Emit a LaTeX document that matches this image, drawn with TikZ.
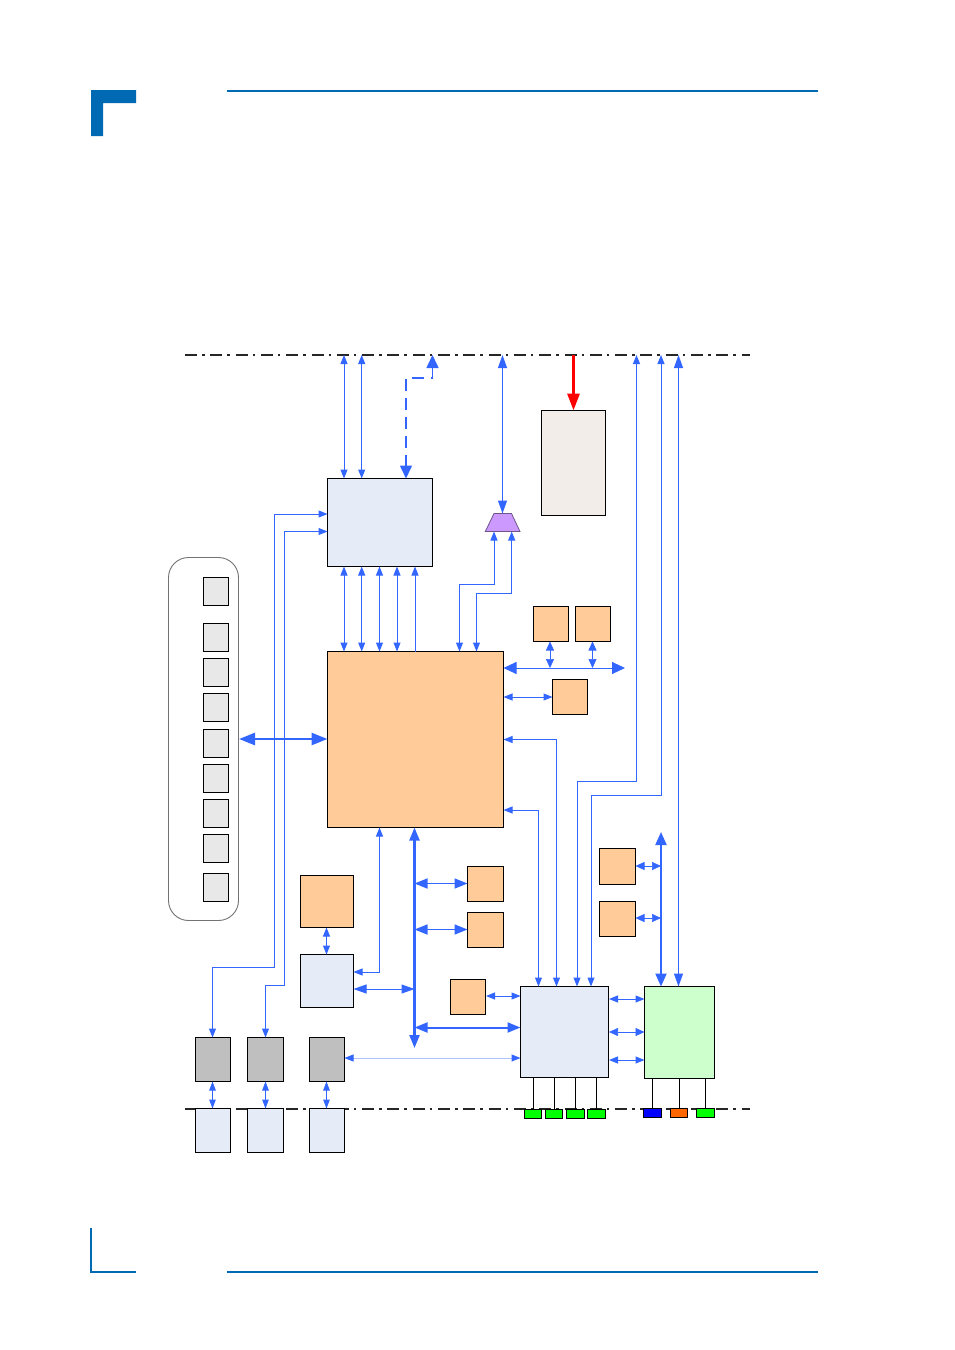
\documentclass[tikz,border=0pt]{standalone}
\usetikzlibrary{arrows.meta}
\definecolor{hdr}{HTML}{0069B4}
\definecolor{arw}{HTML}{3366FF}
\definecolor{lite}{HTML}{AFC4FF}
\definecolor{pale}{HTML}{E6ECF7}
\definecolor{org}{HTML}{FFCC99}
\definecolor{sand}{HTML}{F2EDE9}
\definecolor{mint}{HTML}{CCFFCC}
\definecolor{slot}{HTML}{E8E8E8}
\definecolor{grayb}{HTML}{BFBFBF}
\definecolor{lila}{HTML}{CC99FF}
\definecolor{pin}{HTML}{00FF00}
\definecolor{pinor}{HTML}{FF6600}
\tikzset{
  boxs/.style={draw=black,line width=1,inner sep=0,outer sep=0},
  busline/.style={draw=black!85,line width=1.2,dash pattern=on 12 off 5 on 2.5 off 5.8},
  hline/.style={draw=hdr,line width=1.6},
  wire/.style={draw=black,line width=1},
  tn/.style={draw=arw,line width=1},
  lo/.style={tn,-{Triangle[length=9,width=7]}},
  bo/.style={tn,{Triangle[length=9,width=7]}-{Triangle[length=9,width=7]}},
  bs/.style={tn,{Triangle[length=9,width=6.5]}-{Triangle[length=9,width=6.5]}},
  bf/.style={draw=arw,line width=.6,{Triangle[length=9,width=8]}-{Triangle[length=9,width=8]}},
  bm/.style={tn,{Triangle[length=13,width=9]}-{Triangle[length=13,width=9]}},
  bl/.style={tn,{Triangle[length=13,width=12]}-{Triangle[length=13,width=12]}},
  bt/.style={draw=arw,line width=2,{Triangle[length=13,width=11]}-{Triangle[length=13,width=11]}},
  bx/.style={draw=arw,line width=2.6,{Triangle[length=16,width=12]}-{Triangle[length=16,width=12]}},
}
\newcommand\bxn[6]{\node[boxs,fill=#6,minimum width={#4-#2},minimum height={#5-#3}] (#1) at ({(#2+#4)/2},{(#3+#5)/2}) {};}
\newcommand\pt[3]{\coordinate (#1) at (#2,#3);}
\begin{document}
\begin{tikzpicture}[x=1pt,y=-1pt]
\useasboundingbox (0,0) rectangle (954,1350);
% page furniture
\fill[hdr] (91,90) -- (136,90) -- (136,103) -- (103,103) -- (103,136) -- (91,136) -- cycle;
\pt{hTL}{227}{91}\pt{hTR}{818}{91}\pt{hBL}{227}{1272}\pt{hBR}{818}{1272}
\pt{cA}{91}{1228}\pt{cB}{91}{1272}\pt{cC}{136}{1272}
\draw[hline] (hTL) -- (hTR);
\draw[hline] (hBL) -- (hBR);
\draw[hline] (cA) -- (cB) -- (cC);
% bus lines
\pt{tL}{185}{355}\pt{tR}{750}{355}\pt{uL}{185}{1109}\pt{uR}{750}{1109}
\draw[busline] (tL) -- (tR);
\draw[busline] (uL) -- (uR);
% group
\node[draw=black!55,line width=.9,rounded corners=20,inner sep=0,outer sep=0,minimum width=70,minimum height=363] (grp) at (203.5,739) {};
\bxn{s1}{203.5}{577.3}{228.5}{605.3}{slot}
\bxn{s2}{203.5}{623.3}{228.5}{651.3}{slot}
\bxn{s3}{203.5}{658.3}{228.5}{686.3}{slot}
\bxn{s4}{203.5}{693.3}{228.5}{721.3}{slot}
\bxn{s5}{203.5}{729.3}{228.5}{757.3}{slot}
\bxn{s6}{203.5}{764.3}{228.5}{792.3}{slot}
\bxn{s7}{203.5}{799.3}{228.5}{827.3}{slot}
\bxn{s8}{203.5}{834.3}{228.5}{862.3}{slot}
\bxn{s9}{203.5}{873.3}{228.5}{901.3}{slot}
% main blocks
\bxn{sio}{327.5}{478.5}{432.5}{566.5}{pale}
\bxn{red}{541.5}{410.5}{605.5}{515.5}{sand}
\bxn{fpga}{327.5}{651.5}{503.5}{827.5}{org}
\bxn{oa}{533.5}{606.5}{568.5}{641.5}{org}
\bxn{ob}{575.5}{606.5}{610.5}{641.5}{org}
\bxn{oc}{552.5}{679.5}{587.5}{714.5}{org}
\bxn{od}{599.5}{848.5}{635.5}{884.5}{org}
\bxn{oe}{599.5}{901.5}{635.5}{936.5}{org}
\bxn{of}{300.5}{875.5}{353.5}{927.5}{org}
\bxn{pb}{300.5}{954.5}{353.5}{1007.5}{pale}
\bxn{og}{467.5}{866.5}{503.5}{901.5}{org}
\bxn{oh}{467.5}{912.5}{503.5}{947.5}{org}
\bxn{oi}{450.5}{979.5}{485.5}{1014.5}{org}
\bxn{hub}{520.5}{986.5}{608.5}{1077.5}{pale}
\bxn{grn}{644.5}{986.5}{714.5}{1078.5}{mint}
\bxn{g1}{195.5}{1037.5}{230.5}{1081.5}{grayb}
\bxn{g2}{247.5}{1037.5}{283.5}{1081.5}{grayb}
\bxn{g3}{309.5}{1037.5}{344.5}{1081.5}{grayb}
\bxn{c1}{195.5}{1108.5}{230.5}{1152.5}{pale}
\bxn{c2}{247.5}{1108.5}{283.5}{1152.5}{pale}
\bxn{c3}{309.5}{1108.5}{344.5}{1152.5}{pale}
\bxn{p1}{524.5}{1109.5}{541.5}{1118.5}{pin}
\bxn{p2}{545.5}{1109.5}{562.5}{1118.5}{pin}
\bxn{p3}{566.5}{1109.5}{584.5}{1118.5}{pin}
\bxn{p4}{587.5}{1109.5}{605.5}{1118.5}{pin}
\bxn{q1}{643.5}{1108.5}{661.5}{1117.5}{blue}
\bxn{q2}{670.5}{1108.5}{687.5}{1117.5}{pinor}
\bxn{q3}{696.5}{1108.5}{714.5}{1117.5}{pin}
\draw[draw=black!45!lila,line width=.8,fill=lila] (494,513.5) -- (511.5,513.5) -- (520,531.5) -- (485.3,531.5) -- cycle;
\node[inner sep=0,outer sep=0,minimum width=35,minimum height=18] (mux) at (502.5,522.5) {};
% top connectors
\pt{a1}{344}{355}\pt{a2}{361.7}{355}\pt{a3}{379.5}{478}\pt{a4}{397}{478}\pt{a5}{415}{478}
\pt{d1}{432.5}{355}\pt{d2}{432.5}{378}\pt{d3}{406}{378}
\pt{tm}{502.5}{355}\pt{tr}{573.5}{355}
\draw[bo] (a1) -- (a1 |- sio.north);
\draw[bo] (a2) -- (a2 |- sio.north);
\draw[draw=arw,line width=1.6,dash pattern=on 12 off 7,{Triangle[length=13,width=12]}-{Triangle[length=13,width=12]}] (d1) -- (d2) -- (d3) -- (d3 |- sio.north);
\draw[bm] (tm) -- (mux.north);
\draw[draw=red,line width=3,-{Triangle[length=17,width=12]}] (tr) -- (red.north);
% sio to fpga
\draw[bo] (a1 |- sio.south) -- (a1 |- fpga.north);
\draw[bo] (a2 |- sio.south) -- (a2 |- fpga.north);
\draw[bo] (a3 |- sio.south) -- (a3 |- fpga.north);
\draw[bo] (a4 |- sio.south) -- (a4 |- fpga.north);
\draw[lo] (a5 |- fpga.north) -- (a5 |- sio.south);
% mux to fpga
\pt{m1}{494}{531.5}\pt{m2}{511.7}{531.5}\pt{m1a}{494}{584.5}\pt{m1b}{459.5}{584.5}\pt{m2a}{511.7}{593.5}\pt{m2b}{476.5}{593.5}
\draw[bo] (m1) -- (m1a) -- (m1b) -- (m1b |- fpga.north);
\draw[bo] (m2) -- (m2a) -- (m2b) -- (m2b |- fpga.north);
% right of fpga
\pt{b1}{625}{668}\pt{xa}{550}{668}\pt{xb}{592.5}{668}
\draw[bl] (b1) -- (b1 -| fpga.east);
\draw[bf] (xa |- oa.south) -- (xa);
\draw[bf] (xb |- ob.south) -- (xb);
\draw[bo] (oc.west) -- (oc.west -| fpga.east);
\pt{r1}{556.5}{739.5}\pt{r2}{538.5}{810}
\draw[bo] (r1 -| fpga.east) -- (r1) -- (r1 |- hub.north);
\draw[bo] (r2 -| fpga.east) -- (r2) -- (r2 |- hub.north);
\pt{e1}{577}{781}\pt{e2}{636.5}{781}\pt{e3}{591}{795.5}\pt{e4}{661}{795.5}\pt{e5}{678.5}{355}
\pt{e2t}{636.5}{355}\pt{e4t}{661}{355}
\draw[bo] (e2t) -- (e2) -- (e1) -- (e1 |- hub.north);
\draw[bo] (e4t) -- (e4) -- (e3) -- (e3 |- hub.north);
\draw[bm] (e5) -- (e5 |- grn.north);
% right bus
\pt{f1}{661}{832}\pt{f2}{661}{866}\pt{f3}{661}{918}
\draw[bt] (f1) -- (f1 |- grn.north);
\draw[bf] (f2 -| od.east) -- (f2);
\draw[bf] (f3 -| oe.east) -- (f3);
% left side
\pt{gy}{239}{739}
\draw[bx] (gy) -- (gy -| fpga.west);
\pt{l1}{274.5}{514}\pt{l2}{274.5}{967}\pt{l3}{212.5}{967}
\pt{l4}{284}{531.5}\pt{l5}{284}{985.5}\pt{l6}{265.5}{985.5}
\draw[bo] (l1 -| sio.west) -- (l1) -- (l2) -- (l3) -- (l3 |- g1.north);
\draw[bo] (l4 -| sio.west) -- (l4) -- (l5) -- (l6) -- (l6 |- g2.north);
\draw[bs] (l3 |- g1.south) -- (l3 |- c1.north);
\draw[bs] (l6 |- g2.south) -- (l6 |- c2.north);
\pt{g3x}{326.5}{1095}
\draw[bs] (g3x |- g3.south) -- (g3x |- c3.north);
% lower centre
\draw[bo] (g3x |- of.south) -- (g3x |- pb.north);
\pt{v1}{379.5}{972}\pt{v0}{414.5}{989}\pt{v2}{414.5}{1048}
\draw[bo] (v1 -| pb.east) -- (v1) -- (v1 |- fpga.south);
\draw[bm] (v0 -| pb.east) -- (v0);
\draw[draw=arw,line width=2.2,{Triangle[length=13,width=10]}-{Triangle[length=13,width=10]}] (v0 |- fpga.south) -- (v2);
\pt{w1}{414.5}{883.5}\pt{w2}{414.5}{929.5}\pt{w3}{414.5}{1027.5}\pt{w4}{414.5}{1058}
\draw[draw=arw,line width=1.6,{Triangle[length=13,width=10]}-{Triangle[length=13,width=10]}] (w1) -- (w1 -| og.west);
\draw[draw=arw,line width=1.6,{Triangle[length=13,width=10]}-{Triangle[length=13,width=10]}] (w2) -- (w2 -| oh.west);
\draw[draw=arw,line width=2,{Triangle[length=13,width=10]}-{Triangle[length=13,width=10]}] (w3) -- (w3 -| hub.west);
\draw[draw=lite,line width=1,{Triangle[length=9,width=7,color=arw]}-{Triangle[length=9,width=7,color=arw]}] (w4 -| g3.east) -- (w4 -| hub.west);
\pt{i1}{486}{996}
\draw[bo] (i1) -- (i1 -| hub.west);
% hub to green
\pt{n1}{609}{999}\pt{n2}{609}{1032}\pt{n3}{609}{1060}
\draw[bo] (n1) -- (n1 -| grn.west);
\draw[bf] (n2) -- (n2 -| grn.west);
\draw[bo] (n3) -- (n3 -| grn.west);
% pin wires
\pt{y1}{533.3}{1100}\pt{y2}{554.3}{1100}\pt{y3}{575.3}{1100}\pt{y4}{596.3}{1100}
\pt{y5}{652.3}{1100}\pt{y6}{679.3}{1100}\pt{y7}{705.3}{1100}
\draw[wire] (y1 |- p1.north) -- (y1 |- hub.south);
\draw[wire] (y2 |- p2.north) -- (y2 |- hub.south);
\draw[wire] (y3 |- p3.north) -- (y3 |- hub.south);
\draw[wire] (y4 |- p4.north) -- (y4 |- hub.south);
\draw[wire] (y5 |- q1.north) -- (y5 |- grn.south);
\draw[wire] (y6 |- q2.north) -- (y6 |- grn.south);
\draw[wire] (y7 |- q3.north) -- (y7 |- grn.south);
\end{tikzpicture}
\end{document}
